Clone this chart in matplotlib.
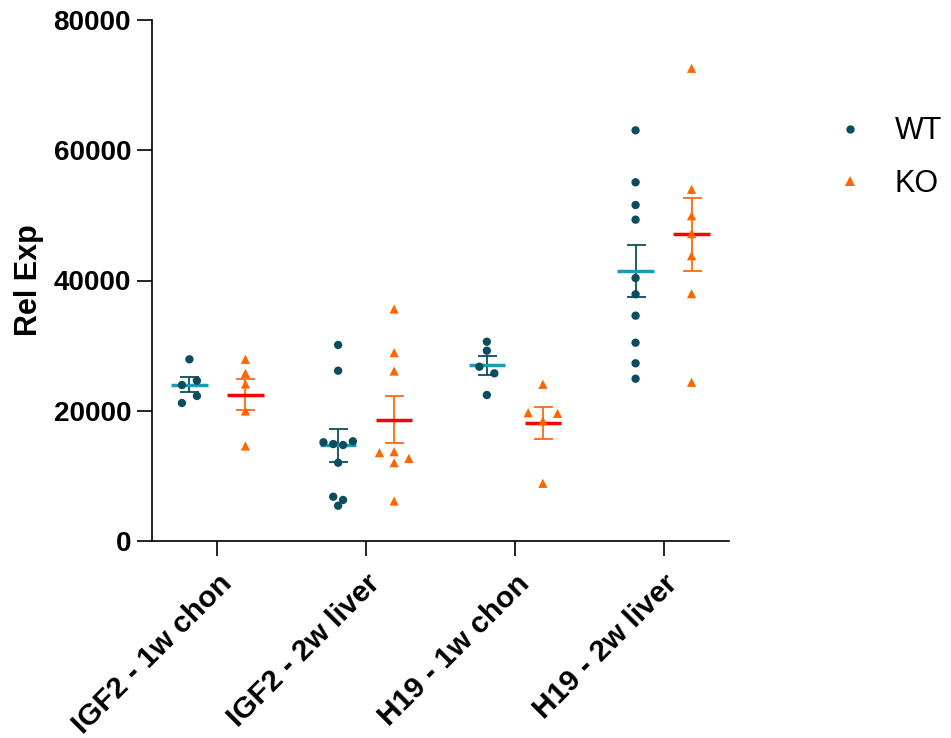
import numpy as np
import matplotlib
matplotlib.use("Agg")
import matplotlib.pyplot as plt
from matplotlib.lines import Line2D

# ---------------- data ----------------
categories = ["IGF2 - 1w chon", "IGF2 - 2w liver", "H19 - 1w chon", "H19 - 2w liver"]
series_names = ["WT", "KO"]

wt_igf2_1w = [27900, 23950, 24610, 21190, 22270]
wt_igf2_2w = [30100, 26150, 15160, 14890, 14740, 15310, 12020, 6800, 6300, 5420]
wt_h19_1w = [30600, 29220, 26760, 25750, 22420]
wt_h19_2w = [63060, 55080, 51590, 49340, 40380, 37880, 34600, 30450, 27290, 24920]

ko_igf2_1w = [27900, 25750, 24110, 19960, 14590]
ko_igf2_2w = [35620, 28920, 26100, 13560, 13710, 12690, 12020, 6140]
ko_h19_1w = [24060, 19700, 18430, 19600, 8860]
ko_h19_2w = [72580, 54000, 49950, 47190, 43810, 37980, 24370]

wt_groups = [wt_igf2_1w, wt_igf2_2w, wt_h19_1w, wt_h19_2w]
ko_groups = [ko_igf2_1w, ko_igf2_2w, ko_h19_1w, ko_h19_2w]

y_ticks = [0, 20000, 40000, 60000, 80000]

# ---------------- style ----------------
WT_DOT = "#0b4d5e"
WT_MEAN = "#1a9cb4"
KO_DOT = "#ff6600"
KO_ERR = "#ff6a10"
KO_MEAN = "#ff0000"
FONT = "Liberation Sans"

plt.rcParams["font.family"] = [FONT, "DejaVu Sans"]

W, H, DPI = 951, 738, 100
fig = plt.figure(figsize=(W / DPI, H / DPI), dpi=DPI)
left, right, top, bottom = 152, 729, 20, 541
ax = fig.add_axes([left / W, 1 - bottom / H, (right - left) / W, (bottom - top) / H])

ax.set_xlim(-0.44, 3.44)
ax.set_ylim(0, 80000)

for s in ["top", "right"]:
    ax.spines[s].set_visible(False)
for s in ["left", "bottom"]:
    ax.spines[s].set_linewidth(1.2)
    ax.spines[s].set_color("black")

ax.set_yticks(y_ticks)
ax.set_yticklabels([str(v) for v in y_ticks])
ax.set_xticks(range(len(categories)))
ax.set_xticklabels(categories, rotation=45, ha="right", rotation_mode="anchor")
ax.tick_params(axis="both", direction="out", length=10.8, width=1.2, color="black")
ax.tick_params(axis="y", labelsize=20, pad=4.3)
ax.tick_params(axis="x", labelsize=21.5, pad=9.5)
for lab in ax.get_xticklabels() + ax.get_yticklabels():
    lab.set_fontweight("bold")

ax.set_ylabel("Rel Exp", fontsize=22, fontweight="bold", va="baseline", ha="center")
ax.yaxis.set_label_coords((37 - left) / (right - left), 0.5)

fig.canvas.draw()
trans = ax.transData
px_per_x = trans.transform((1, 0))[0] - trans.transform((0, 0))[0]


def swarm_offsets(xc, vals, step_px=15.0, max_spread_px=29.4, row_px=8.6):
    vals = np.asarray(vals, dtype=float)
    py = trans.transform(np.column_stack([np.full(len(vals), xc), vals]))[:, 1]
    order = np.argsort(-vals, kind="stable")
    rows, cur, start = [], [], None
    for i in order:
        if cur and abs(py[i] - py[start]) <= row_px:
            cur.append(i)
        else:
            if cur:
                rows.append(cur)
            cur, start = [i], i
    if cur:
        rows.append(cur)
    nmax = max(len(r) for r in rows)
    sp = step_px if nmax < 2 else min(step_px, max_spread_px / (nmax - 1))
    off = np.zeros(len(vals))
    for r in rows:
        r = sorted(r)
        n = len(r)
        for k, i in enumerate(r):
            off[i] = (k - (n - 1) / 2) * sp / px_per_x
    return off


group_shift = 28.0 / px_per_x
mean_hw = 18.3 / px_per_x
cap_pt = 9.5 * 72 / DPI

for gi in range(len(categories)):
    for vals, sign, dot_c, err_c, mean_c, marker in [
        (wt_groups[gi], -1, WT_DOT, WT_DOT, WT_MEAN, "o"),
        (ko_groups[gi], 1, KO_DOT, KO_ERR, KO_MEAN, "^"),
    ]:
        xc = gi + sign * group_shift
        v = np.asarray(vals, dtype=float)
        m = v.mean()
        sem = v.std(ddof=1) / np.sqrt(len(v))
        ax.errorbar([xc], [m], yerr=[sem], fmt="none", ecolor=err_c, elinewidth=1.3,
                    capsize=cap_pt, capthick=1.3, zorder=2)
        ax.plot([xc - mean_hw, xc + mean_hw], [m, m], color=mean_c, lw=2.5,
                solid_capstyle="butt", zorder=3)
        off = swarm_offsets(xc, v)
        ax.scatter(xc + off, v, s=36 if marker == "o" else 44, marker=marker,
                   color=dot_c, edgecolors="none", zorder=4, clip_on=False)

handles = [
    Line2D([], [], ls="none", marker="o", markersize=6, color=WT_DOT, markeredgewidth=0),
    Line2D([], [], ls="none", marker="^", markersize=6.5, color=KO_DOT, markeredgewidth=0),
]
fig.legend(handles, series_names, loc="center left",
           bbox_to_anchor=(834.7 / W, 1 - 157.5 / H), frameon=False,
           prop={"family": FONT, "size": 22}, handlelength=1.0,
           handletextpad=0.97, labelspacing=0.73, borderpad=0, borderaxespad=0)

fig.savefig("out.png", dpi=DPI)
